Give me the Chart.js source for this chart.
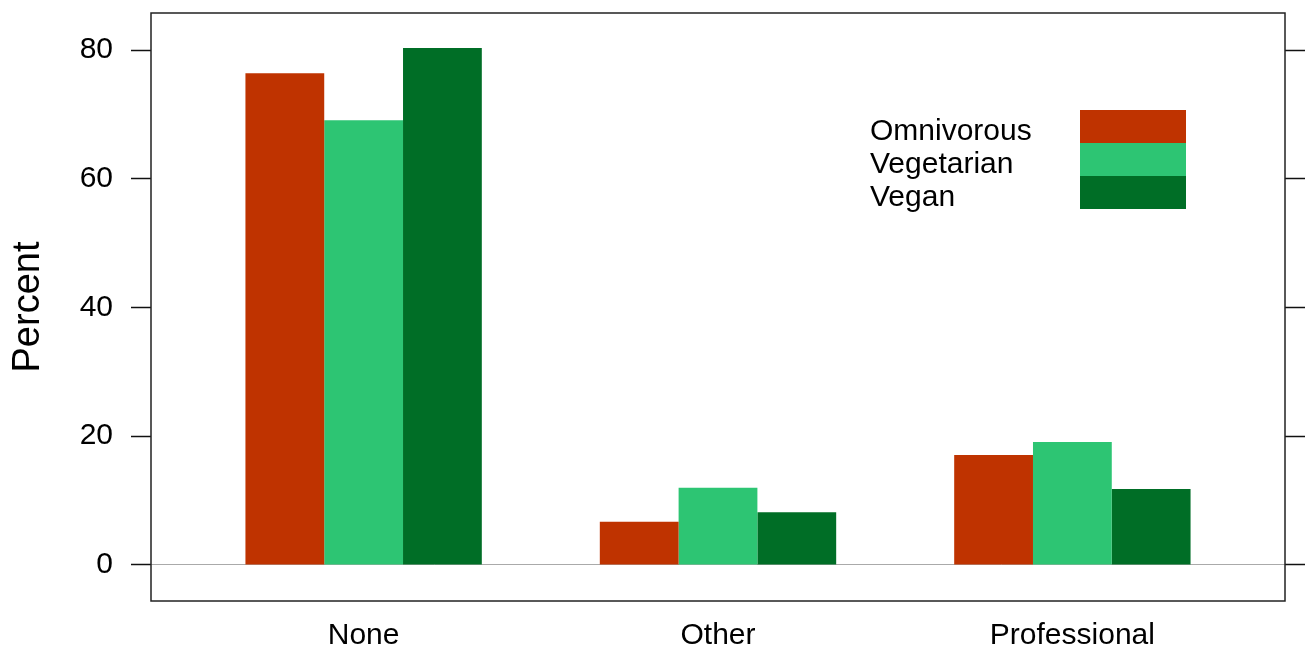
<!DOCTYPE html>
<html>
<head>
<meta charset="utf-8">
<script src="https://cdn.jsdelivr.net/npm/chart.js@4.4.1/dist/chart.umd.min.js"></script>
<style>
  html, body { margin: 0; padding: 0; background: #fff; }
  #wrap { width: 1306px; height: 651px; }
</style>
</head>
<body>
<div id="wrap"><canvas id="chart" width="1306" height="651"></canvas></div>
<script>
// data
const categories = ['None', 'Other', 'Professional'];
const groups = ['Omnivorous', 'Vegetarian', 'Vegan'];
const omnivorous = [76.4, 6.7, 17.1];
const vegetarian = [69.1, 12.0, 19.1];
const vegan = [80.3, 8.2, 11.8];
const yTicks = [0, 20, 40, 60, 80];

const colors = ['#BF3300', '#2DC573', '#006E26'];
const FONT = "'Liberation Sans', Arial, sans-serif";

const series = [omnivorous, vegetarian, vegan];

// box around the plot + legend on the right (text left, swatch right)
const boxAndLegend = {
    id: 'boxAndLegend',
    afterDraw(chart) {
        const { ctx, chartArea: a } = chart;
        ctx.save();
        ctx.strokeStyle = '#222';
        ctx.lineWidth = 1.5;
        ctx.strokeRect(a.left, a.top, a.right - a.left, a.bottom - a.top);

        ctx.font = '30px ' + FONT;
        ctx.textBaseline = 'middle';
        ctx.textAlign = 'left';
        chart.data.datasets.forEach((ds, i) => {
            const y = 110 + i * 33;
            ctx.fillStyle = ds.backgroundColor;
            ctx.fillRect(1080, y, 106, 33);
            ctx.fillStyle = '#000';
            ctx.fillText(ds.label, 870, y + 22);
        });
        ctx.restore();
    }
};

new Chart(document.getElementById('chart'), {
    type: 'bar',
    data: {
        datasets: groups.map((g, i) => ({
            label: g,
            data: series[i].map((v, k) => ({ x: k + 1, y: v })),
            backgroundColor: colors[i],
            borderWidth: 0,
            categoryPercentage: 0.667,
            barPercentage: 1.0
        }))
    },
    options: {
        responsive: false,
        animation: false,
        layout: { padding: { top: 13, right: 0, left: 0, bottom: 0 } },
        plugins: { legend: { display: false }, tooltip: { enabled: false } },
        scales: {
            x: {
                type: 'linear',
                offset: false,
                min: 0.4,
                max: 3.6,
                afterBuildTicks: s => { s.ticks = categories.map((c, i) => ({ value: i + 1 })); },
                afterFit: s => { s.height = 50; s.paddingLeft = 0; s.paddingRight = 0; },
                grid: { display: false },
                border: { display: false },
                ticks: {
                    callback: v => categories[v - 1],
                    font: { family: FONT, size: 30 },
                    color: '#000',
                    padding: 9,
                    maxRotation: 0
                }
            },
            y: {
                min: -5.6,
                max: 85.75,
                afterBuildTicks: s => { s.ticks = yTicks.map(v => ({ value: v })); },
                afterFit: s => { s.width = 151; s.paddingTop = 0; s.paddingBottom = 0; },
                border: { display: false },
                grid: {
                    drawOnChartArea: true,
                    drawTicks: true,
                    tickLength: 20,
                    color: c => c.tick && c.tick.value === 0 ? '#aaaaaa' : 'rgba(0,0,0,0)',
                    tickColor: '#111',
                    tickWidth: 1.5
                },
                ticks: {
                    font: { family: FONT, size: 30 },
                    color: '#000',
                    padding: 18
                },
                title: {
                    display: true,
                    text: 'Percent',
                    font: { family: FONT, size: 38 },
                    color: '#000',
                    padding: { top: 6, bottom: 0 }
                }
            },
            y2: {
                position: 'right',
                min: -5.6,
                max: 85.75,
                afterBuildTicks: s => { s.ticks = yTicks.map(v => ({ value: v })); },
                afterFit: s => { s.width = 21; s.paddingTop = 0; s.paddingBottom = 0; },
                border: { display: false },
                grid: {
                    drawOnChartArea: false,
                    drawTicks: true,
                    tickLength: 20,
                    tickColor: '#111',
                    tickWidth: 1.5
                },
                ticks: { display: false }
            }
        }
    },
    plugins: [boxAndLegend]
});
</script>
</body>
</html>
